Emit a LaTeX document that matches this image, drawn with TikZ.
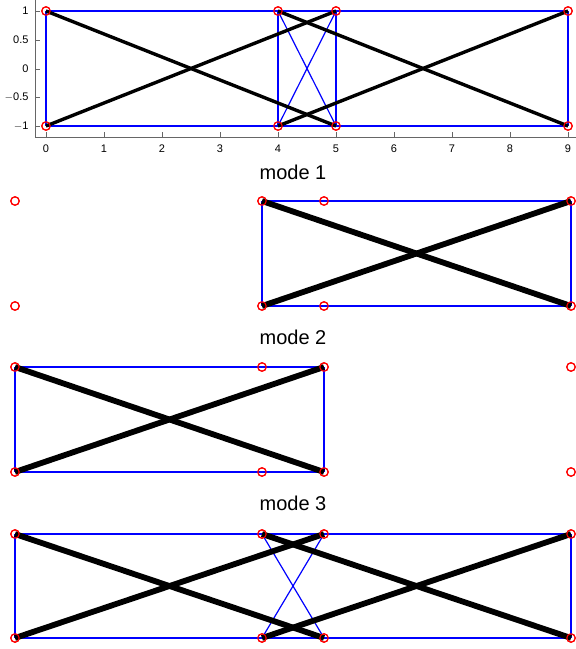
\documentclass[tikz,border=0pt]{standalone}
\usepackage{fontspec}
\setmainfont{Liberation Sans}
\begin{document}
\begin{tikzpicture}[x=1pt,y=-1pt,
  pin/.style={circle,draw=red,line width=1.1pt,minimum size=8.5pt,inner sep=0pt},
  bar/.style={draw=blue,line width=1.2pt},
  topline/.style={draw=black,line width=3.4pt},
  modeline/.style={draw=black,line width=5.8pt},
  axis/.style={draw=black!60,line width=1pt},
  tick/.style={font=\fontsize{11}{13}\selectfont},
  title/.style={font=\fontsize{20}{23}\selectfont}]
\useasboundingbox (0,0) rectangle (576,649);
% ---- top panel axes
\coordinate (axtop) at (35,0);
\coordinate (axorig) at (35,137);
\coordinate (axright) at (576,137);
\draw[axis] (axtop) -- (axorig) -- (axright);
\foreach \v/\px in {0/46,1/104,2/162,3/220,4/278,5/336,6/394,7/452,8/510,9/568}{
  \draw[axis] (\px,137) -- (\px,132);
  \node[tick] (xl\v) at (\px,149) {\v};
}
\foreach \n/\lab/\py in {a/1/11,b/0.5/40,c/0/69,d/$-$0.5/97,e/$-$1/126}{
  \draw[axis] (35,\py) -- (40,\py);
  \node[tick,anchor=east] (yl\n) at (32,\py) {\lab};
}
% ---- top panel nodes
\foreach \n/\px in {0/46,4/278,5/336,9/568}{
  \node[pin] (t\n u) at (\px,11) {};
  \node[pin] (t\n d) at (\px,126) {};
}
\draw[bar] (t0u.center) -- (t9u.center);
\draw[bar] (t0d.center) -- (t9d.center);
\foreach \n in {0,4,5,9}{\draw[bar] (t\n u.center) -- (t\n d.center);}
\draw[bar] (t4u.center) -- (t5d.center);
\draw[bar] (t5u.center) -- (t4d.center);
\draw[topline] (t0u.center) -- (t5d.center);
\draw[topline] (t0d.center) -- (t5u.center);
\draw[topline] (t4u.center) -- (t9d.center);
\draw[topline] (t4d.center) -- (t9u.center);
% ---- mode 1
\node[title] (m1) at (293,172) {mode 1};
\foreach \n/\px in {0/15,4/262,5/324,9/571}{
  \node[pin] (a\n u) at (\px,201) {};
  \node[pin] (a\n d) at (\px,306) {};
}
\draw[bar] (a4u.center) -- (a9u.center);
\draw[bar] (a4d.center) -- (a9d.center);
\draw[bar] (a4u.center) -- (a4d.center);
\draw[bar] (a9u.center) -- (a9d.center);
\draw[modeline] (a4u.center) -- (a9d.center);
\draw[modeline] (a4d.center) -- (a9u.center);
% ---- mode 2
\node[title] (m2) at (293,337) {mode 2};
\foreach \n/\px in {0/15,4/262,5/324,9/571}{
  \node[pin] (b\n u) at (\px,367) {};
  \node[pin] (b\n d) at (\px,472) {};
}
\draw[bar] (b0u.center) -- (b5u.center);
\draw[bar] (b0d.center) -- (b5d.center);
\draw[bar] (b0u.center) -- (b0d.center);
\draw[bar] (b5u.center) -- (b5d.center);
\draw[modeline] (b0u.center) -- (b5d.center);
\draw[modeline] (b0d.center) -- (b5u.center);
% ---- mode 3
\node[title] (m3) at (293,503) {mode 3};
\foreach \n/\px in {0/15,4/262,5/324,9/571}{
  \node[pin] (c\n u) at (\px,534) {};
  \node[pin] (c\n d) at (\px,638) {};
}
\draw[bar] (c0u.center) -- (c9u.center);
\draw[bar] (c0d.center) -- (c9d.center);
\draw[bar] (c0u.center) -- (c0d.center);
\draw[bar] (c9u.center) -- (c9d.center);
\draw[bar] (c4u.center) -- (c5d.center);
\draw[bar] (c5u.center) -- (c4d.center);
\draw[modeline] (c0u.center) -- (c5d.center);
\draw[modeline] (c0d.center) -- (c5u.center);
\draw[modeline] (c4u.center) -- (c9d.center);
\draw[modeline] (c4d.center) -- (c9u.center);
% redraw pins on top
\foreach \p in {t,a,b,c}{
  \foreach \n in {0,4,5,9}{
    \draw[red,line width=1.1pt] (\p\n u) circle (4.2pt);
    \draw[red,line width=1.1pt] (\p\n d) circle (4.2pt);
  }
}
\end{tikzpicture}
\end{document}
